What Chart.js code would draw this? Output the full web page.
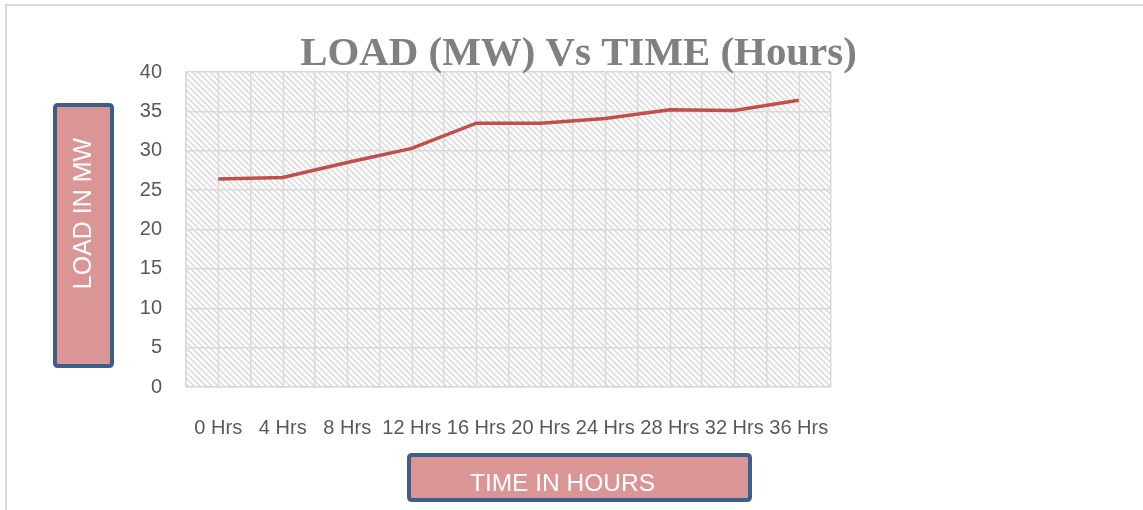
<!DOCTYPE html>
<html>
<head>
<meta charset="utf-8">
<title>LOAD (MW) Vs TIME (Hours)</title>
<script src="https://cdn.jsdelivr.net/npm/chart.js@4/dist/chart.umd.min.js"></script>
<style>
  html, body { margin: 0; padding: 0; background: #fff; }
  #wrap { width: 1143px; height: 510px; }
</style>
</head>
<body>
<div id="wrap"><canvas id="loadChart" width="1143" height="510"></canvas></div>
<script>
// Chart data
const timeLabels = ["0 Hrs", "4 Hrs", "8 Hrs", "12 Hrs", "16 Hrs", "20 Hrs", "24 Hrs", "28 Hrs", "32 Hrs", "36 Hrs"];
const loadValues = [26.4, 26.6, 28.5, 30.3, 33.5, 33.5, 34.1, 35.2, 35.1, 36.4];
const yTickValues = [0, 5, 10, 15, 20, 25, 30, 35, 40];

const chartTitle = "LOAD (MW) Vs TIME (Hours)";
const yTitle = "LOAD IN MW";
const xTitle = "TIME IN HOURS";

const GRID = "#d9d9d9";
const BOX_FILL = "#d99694";
const BOX_LINE = "#3a5f8b";

// diagonal hatch for the plot area
function makeHatch() {
  const c = document.createElement("canvas");
  c.width = 6;
  c.height = 6;
  const g = c.getContext("2d");
  g.strokeStyle = "#dcdcdc";
  g.lineWidth = 1.6;
  g.beginPath();
  g.moveTo(-1, -1); g.lineTo(7, 7);
  g.moveTo(-4, 2); g.lineTo(4, 10);
  g.moveTo(2, -4); g.lineTo(10, 4);
  g.stroke();
  return c;
}

function roundBox(ctx, x, y, w, h, r) {
  ctx.beginPath();
  ctx.moveTo(x + r, y);
  ctx.lineTo(x + w - r, y);
  ctx.quadraticCurveTo(x + w, y, x + w, y + r);
  ctx.lineTo(x + w, y + h - r);
  ctx.quadraticCurveTo(x + w, y + h, x + w - r, y + h);
  ctx.lineTo(x + r, y + h);
  ctx.quadraticCurveTo(x, y + h, x, y + h - r);
  ctx.lineTo(x, y + r);
  ctx.quadraticCurveTo(x, y, x + r, y);
  ctx.closePath();
}

const decorPlugin = {
  id: "decor",
  beforeDraw(chart) {
    const { ctx, chartArea: a } = chart;
    ctx.save();
    // outer frame
    ctx.strokeStyle = GRID;
    ctx.lineWidth = 2;
    ctx.beginPath();
    ctx.moveTo(6, 520);
    ctx.lineTo(6, 5);
    ctx.lineTo(1150, 5);
    ctx.stroke();
    // hatch fill
    ctx.fillStyle = ctx.createPattern(makeHatch(), "repeat");
    ctx.fillRect(a.left, a.top, a.right - a.left, a.bottom - a.top);
    ctx.restore();
  },
  beforeDatasetsDraw(chart) {
    // extra vertical grid lines at category centres
    const { ctx, chartArea: a, scales } = chart;
    ctx.save();
    ctx.strokeStyle = GRID;
    ctx.lineWidth = 1.5;
    ctx.beginPath();
    timeLabels.forEach((_, i) => {
      const px = Math.round(scales.x.getPixelForValue(i)) + 0.5;
      ctx.moveTo(px, a.top);
      ctx.lineTo(px, a.bottom);
    });
    ctx.stroke();
    ctx.restore();
  },
  afterDraw(chart) {
    const ctx = chart.ctx;
    ctx.save();

    // title
    ctx.fillStyle = "#808080";
    let size = 42;
    ctx.font = "bold " + size + "px 'Liberation Serif', serif";
    const w = ctx.measureText(chartTitle).width;
    size = size * 557 / w;
    ctx.font = "bold " + size.toFixed(1) + "px 'Liberation Serif', serif";
    ctx.textAlign = "center";
    ctx.textBaseline = "alphabetic";
    ctx.fillText(chartTitle, 578.5, 65);

    // y axis title box
    ctx.fillStyle = BOX_FILL;
    ctx.strokeStyle = BOX_LINE;
    ctx.lineWidth = 4;
    roundBox(ctx, 55, 105, 57, 261, 3);
    ctx.fill();
    ctx.stroke();
    ctx.save();
    ctx.translate(84, 213.5);
    ctx.rotate(-Math.PI / 2);
    ctx.fillStyle = "#ffffff";
    ctx.font = "25px 'Liberation Sans', sans-serif";
    ctx.textAlign = "center";
    ctx.textBaseline = "middle";
    ctx.fillText(yTitle, 0, 0);
    ctx.restore();

    // x axis title box
    ctx.fillStyle = BOX_FILL;
    ctx.strokeStyle = BOX_LINE;
    ctx.lineWidth = 4;
    roundBox(ctx, 409, 455, 341, 45, 3);
    ctx.fill();
    ctx.stroke();
    ctx.fillStyle = "#ffffff";
    ctx.font = "24.5px 'Liberation Sans', sans-serif";
    ctx.textAlign = "center";
    ctx.textBaseline = "middle";
    ctx.fillText(xTitle, 562.5, 484);

    ctx.restore();
  },
};

new Chart(document.getElementById("loadChart").getContext("2d"), {
  type: "line",
  data: {
    labels: timeLabels,
    datasets: [
      {
        label: "Load (MW)",
        data: loadValues,
        borderColor: "#c0504d",
        backgroundColor: "#c0504d",
        borderWidth: 3.5,
        pointRadius: 0,
        tension: 0,
        fill: false,
      },
    ],
  },
  options: {
    responsive: false,
    animation: false,
    devicePixelRatio: 1,
    layout: {
      padding: { left: 0, top: 72, right: 312, bottom: 0 },
    },
    plugins: {
      legend: { display: false },
      title: { display: false },
      tooltip: { enabled: false },
    },
    scales: {
      x: {
        type: "category",
        offset: true,
        grid: {
          color: GRID,
          lineWidth: 1.5,
          offset: true,
          drawTicks: false,
        },
        border: { color: GRID, width: 1.5 },
        ticks: {
          color: "#595959",
          font: { family: "'Liberation Sans', sans-serif", size: 20 },
          padding: 29,
          autoSkip: false,
          maxRotation: 0,
          minRotation: 0,
        },
        afterFit(scale) {
          scale.height = 123;
        },
      },
      y: {
        min: 0,
        max: 40,
        afterBuildTicks(scale) {
          scale.ticks = yTickValues.map((v) => ({ value: v }));
        },
        grid: {
          color: GRID,
          lineWidth: 1.5,
          drawTicks: false,
        },
        border: { color: GRID, width: 1.5 },
        ticks: {
          color: "#595959",
          font: { family: "'Liberation Sans', sans-serif", size: 20 },
          padding: 24,
        },
        afterFit(scale) {
          scale.width = 186;
        },
      },
    },
  },
  plugins: [decorPlugin],
});
</script>
</body>
</html>
